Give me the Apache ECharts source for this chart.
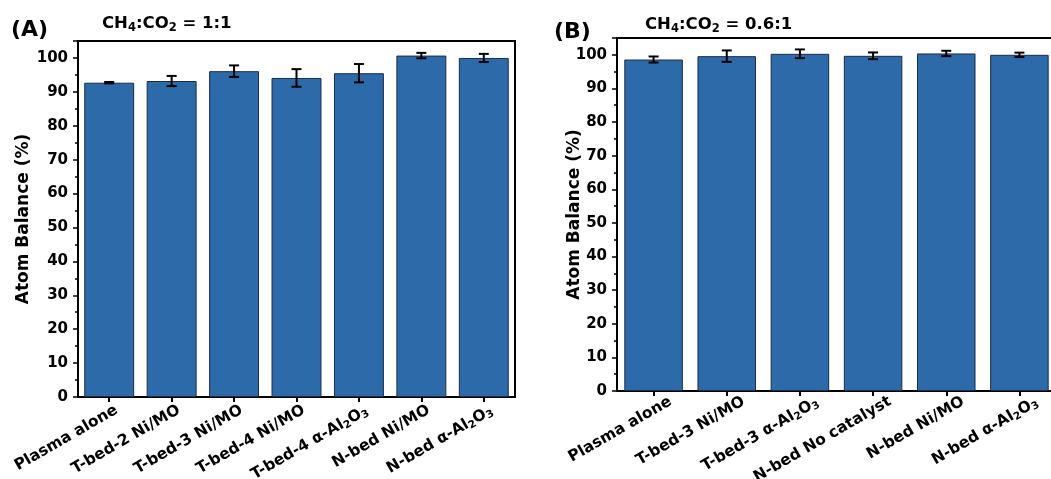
<!DOCTYPE html>
<html>
<head>
<meta charset="utf-8">
<script src="https://cdn.jsdelivr.net/npm/echarts@6/dist/echarts.min.js"></script>
<style>html,body{margin:0;padding:0;background:#fff;}#c{width:1051px;height:479px;}</style>
</head>
<body>
<div id="c"></div>
<script>
// Panel A data (CH4:CO2 = 1:1)
const categoriesA = ['Plasma alone', 'T-bed-2 Ni/MO', 'T-bed-3 Ni/MO', 'T-bed-4 Ni/MO', 'T-bed-4 α-Al{sub|2}O{sub|3}', 'N-bed Ni/MO', 'N-bed α-Al{sub|2}O{sub|3}'];
const valuesA = [92.7, 93.2, 96.1, 94.1, 95.5, 100.7, 100.0];
const errorsA = [0.2, 1.5, 1.7, 2.6, 2.7, 0.8, 1.2];
// Panel B data (CH4:CO2 = 0.6:1)
const categoriesB = ['Plasma alone', 'T-bed-3 Ni/MO', 'T-bed-3 α-Al{sub|2}O{sub|3}', 'N-bed No catalyst', 'N-bed Ni/MO', 'N-bed α-Al{sub|2}O{sub|3}'];
const valuesB = [98.6, 99.6, 100.3, 99.7, 100.4, 100.0];
const errorsB = [0.9, 1.7, 1.3, 1.0, 0.8, 0.65];
const yTicks = [0, 10, 20, 30, 40, 50, 60, 70, 80, 90, 100];

const FONT = '"DejaVu Sans", sans-serif';
const BAR = '#2d6aa9';

function errData(vals, errs) {
  return vals.map((v, i) => [i, v - errs[i], v + errs[i]]);
}
function errSeries(xi, vals, errs) {
  return {
    type: 'custom', xAxisIndex: xi, yAxisIndex: xi, z: 10,
    data: errData(vals, errs),
    renderItem: function (params, api) {
      const x = api.value(0);
      const lo = api.coord([x, api.value(1)]);
      const hi = api.coord([x, api.value(2)]);
      const hw = 5;
      const st = { stroke: '#000', lineWidth: 2 };
      return {
        type: 'group', children: [
          { type: 'line', shape: { x1: lo[0], y1: lo[1], x2: hi[0], y2: hi[1] }, style: st },
          { type: 'line', shape: { x1: lo[0] - hw, y1: lo[1], x2: lo[0] + hw, y2: lo[1] }, style: st },
          { type: 'line', shape: { x1: hi[0] - hw, y1: hi[1], x2: hi[0] + hw, y2: hi[1] }, style: st }
        ]
      };
    }
  };
}
const labelRich = {
  sub: { fontSize: 10.5, fontWeight: 'bold', fontFamily: FONT, color: '#000', padding: [7, 0, 0, 0] }
};
function xAxis(gi, cats, margin, shift) {
  return {
    type: 'category', gridIndex: gi, data: cats,
    axisLine: { lineStyle: { color: '#000', width: 2 } },
    axisTick: { show: true, alignWithLabel: true, length: 5, lineStyle: { color: '#000', width: 2 } },
    axisLabel: { rotate: 30, interval: 0, margin: margin, padding: [0, -shift, 0, 0], verticalAlign: 'top', fontSize: 15.5, fontWeight: 'bold', fontFamily: FONT, color: '#000', rich: labelRich }
  };
}
function yAxis(gi, gap) {
  return {
    type: 'value', gridIndex: gi, min: 0, max: 105, interval: 10,
    name: 'Atom Balance (%)', nameLocation: 'middle', nameGap: gap, nameMoveOverlap: false,
    nameTextStyle: { fontSize: 17, fontWeight: 'bold', fontFamily: FONT, color: '#000' },
    axisLine: { show: true, lineStyle: { color: '#000', width: 2 } },
    axisTick: { show: true, length: 5, lineStyle: { color: '#000', width: 1.5 } },
    minorTick: { show: true, splitNumber: 2, length: 3, lineStyle: { color: '#000', width: 1.5 } },
    splitLine: { show: false },
    axisLabel: {
      margin: 10, fontSize: 15, fontWeight: 'bold', fontFamily: FONT, color: '#000',
      formatter: function (v) { return yTicks.indexOf(v) >= 0 ? String(v) : ''; }
    }
  };
}
function barSeries(xi, vals) {
  return {
    type: 'bar', xAxisIndex: xi, yAxisIndex: xi, data: vals, barCategoryGap: '20%',
    itemStyle: { color: BAR, borderColor: '#1c2c44', borderWidth: 1 }
  };
}
const titleRich = {
  sub: { fontSize: 11.5, fontWeight: 'bold', fontFamily: FONT, color: '#000', padding: [8, 0, 0, 0] }
};
const chart = echarts.init(document.getElementById('c'), null, { renderer: 'canvas' });
chart.setOption({
  animation: false,
  backgroundColor: '#fff',
  title: [
    { text: '(A)', left: 6, top: 14, textStyle: { fontSize: 22, fontWeight: 'bold', fontFamily: FONT, color: '#000' } },
    { text: '(B)', left: 549, top: 16, textStyle: { fontSize: 22, fontWeight: 'bold', fontFamily: FONT, color: '#000' } },
    { text: 'CH{sub|4}:CO{sub|2} = 1:1', left: 97, top: 9, textStyle: { fontSize: 16.5, fontWeight: 'bold', fontFamily: FONT, color: '#000', rich: titleRich } },
    { text: 'CH{sub|4}:CO{sub|2} = 0.6:1', left: 640, top: 10, textStyle: { fontSize: 16.5, fontWeight: 'bold', fontFamily: FONT, color: '#000', rich: titleRich } }
  ],
  grid: [
    { left: 78, top: 41, width: 437, height: 356, show: true, borderColor: '#000', borderWidth: 2, containLabel: false, outerBoundsMode: 'none' },
    { left: 617, top: 38, width: 439, height: 353, show: true, borderColor: '#000', borderWidth: 2, containLabel: false, outerBoundsMode: 'none' }
  ],
  xAxis: [xAxis(0, categoriesA, 7, 4), xAxis(1, categoriesB, 10, 15)],
  yAxis: [yAxis(0, 46), yAxis(1, 34)],
  series: [
    barSeries(0, valuesA), errSeries(0, valuesA, errorsA),
    barSeries(1, valuesB), errSeries(1, valuesB, errorsB)
  ]
});
</script>
</body>
</html>
